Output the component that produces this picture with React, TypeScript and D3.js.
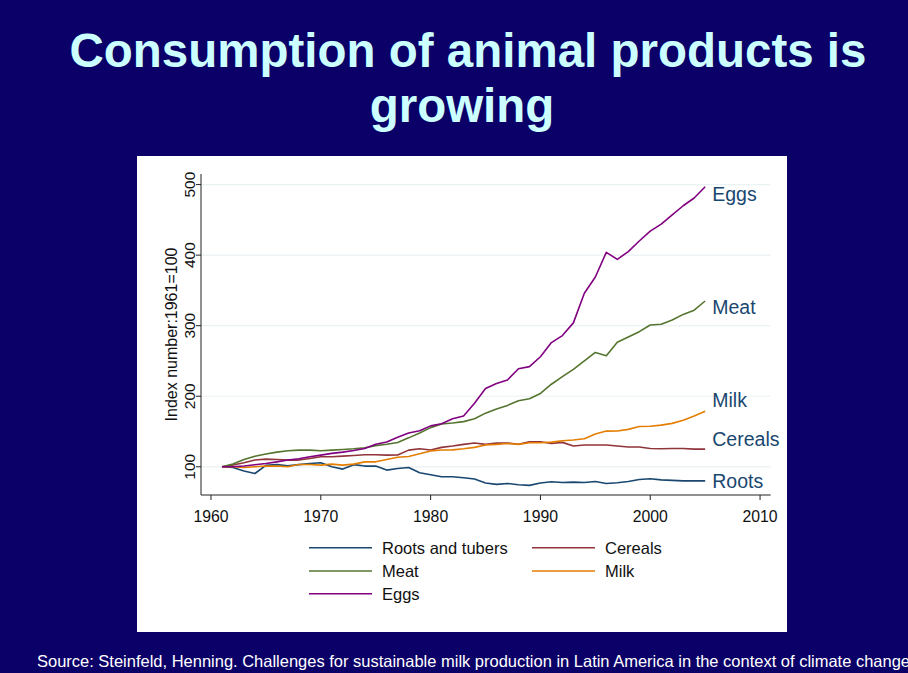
import * as d3 from 'd3';

const W = 908;
const H = 673;

const years = [
  1961, 1962, 1963, 1964, 1965, 1966, 1967, 1968, 1969, 1970,
  1971, 1972, 1973, 1974, 1975, 1976, 1977, 1978, 1979, 1980,
  1981, 1982, 1983, 1984, 1985, 1986, 1987, 1988, 1989, 1990,
  1991, 1992, 1993, 1994, 1995, 1996, 1997, 1998, 1999, 2000,
  2001, 2002, 2003, 2004, 2005,
];

const roots = [
  100, 99, 94, 90.5, 102, 103, 101.5, 103, 104.7, 105.7,
  100, 96.7, 103, 101, 101, 95.3, 97.5, 99, 91.5, 88.7,
  85.8, 85.8, 84.4, 82.6, 77, 75, 76.4, 74.5, 73.6, 77,
  78.7, 77.8, 78.3, 77.8, 79.2, 76.4, 77.4, 79.2, 82, 83,
  81.5, 80.7, 80, 80, 80,
];
const cereals = [
  100, 102.4, 105.7, 109.5, 110.9, 110.4, 109.5, 109.5, 111.8, 114.2,
  114.2, 115.1, 116, 117, 117, 116.5, 116.8, 123.6, 125.5, 123.7,
  127.5, 129.4, 131.8, 133.6, 131.8, 133.6, 133.6, 132, 135.5, 135.5,
  133, 134.6, 129.4, 130.8, 130.8, 130.8, 129.4, 128, 128, 126,
  125.5, 126, 126, 125, 125,
];
const meat = [
  100, 103.8, 110.4, 115, 118, 120.8, 122.7, 123.6, 123.6, 122.7,
  123.6, 124.6, 125.5, 127, 130, 132, 134.5, 141, 148, 155.5,
  160.6, 162, 164, 168, 176, 182, 187, 193.6, 196.5, 204,
  217, 227.7, 238, 250, 262, 257.5, 276.5, 284, 291.5, 301,
  302, 308, 316, 322, 335,
];
const milk = [
  100, 100, 99, 100, 101, 101, 100, 103.3, 103.3, 102.4,
  103.8, 102.4, 103.8, 107, 107, 110.4, 113.5, 114.5, 118.5, 122.5,
  123.7, 123.9, 125.5, 127.5, 131, 131.8, 133, 131.8, 134, 134,
  135, 137, 137.9, 139.7, 146.4, 150.6, 150.8, 153, 157, 157.5,
  159, 161.5, 166, 172, 178.6,
];
const eggs = [
  100, 100, 101, 102.8, 104.7, 107, 109.5, 111.3, 114.2, 116.5,
  119, 120.8, 123, 126, 132, 135, 142, 148, 151, 158,
  161, 168, 172, 190, 211, 218, 223, 239, 242, 256,
  276, 286, 304, 346, 369, 404, 394, 405, 420, 434,
  444, 457, 470, 481, 497,
];

const seriesNames = ['Roots and tubers', 'Cereals', 'Meat', 'Milk', 'Eggs'];
const seriesValues = [roots, cereals, meat, milk, eggs];
const seriesColors = ['#1a476f', '#90353b', '#55752f', '#e37e00', '#800080'];

// end-of-line labels (value where the label sits)
const endLabels = ['Roots', 'Cereals', 'Meat', 'Milk', 'Eggs'];
const endLabelValues = [79.5, 140, 327, 194, 487];

const yTicks = [100, 200, 300, 400, 500];
const xTicks = [1960, 1970, 1980, 1990, 2000, 2010];

const P = { left: 201, right: 770.7, top: 174, bottom: 495 };
const FONT = 'Arial, "Liberation Sans", Helvetica, sans-serif';

export default function App() {
  const x = d3.scaleLinear().domain([1959.09, 2010.97]).range([P.left, P.right]);
  const y = d3.scaleLinear().domain([60, 515]).range([P.bottom, P.top]);

  const line = d3
    .line<number>()
    .x((_, i) => x(years[i]))
    .y((d) => y(d));

  // legend layout: two columns, filled row by row
  const legendRows = [547.7, 571, 593.7];
  const legendCols = [309, 532];

  return (
    <svg
      width={W}
      height={H}
      style={{ position: 'absolute', left: 0, top: 0, fontFamily: FONT }}
    >
      <rect width={W} height={H} fill="#0a0068" />

      <text
        x={468}
        y={67}
        textAnchor="middle"
        fill="#ccffff"
        fontSize={47.5}
        fontWeight="bold"
      >
        Consumption of animal products is
      </text>
      <text
        x={462}
        y={122}
        textAnchor="middle"
        fill="#ccffff"
        fontSize={47.5}
        fontWeight="bold"
      >
        growing
      </text>

      <rect x={137} y={156} width={650} height={476} fill="#ffffff" />

      {/* grid */}
      {yTicks.map((t) => (
        <line
          key={'g' + t}
          x1={P.left}
          x2={P.right}
          y1={y(t)}
          y2={y(t)}
          stroke="#eaf2f3"
          strokeWidth={1.2}
        />
      ))}

      {/* axes */}
      <line x1={P.left} x2={P.left} y1={P.top} y2={P.bottom} stroke="#222" strokeWidth={1} />
      <line x1={P.left} x2={P.right} y1={P.bottom} y2={P.bottom} stroke="#222" strokeWidth={1} />

      {yTicks.map((t) => (
        <g key={'y' + t}>
          <line x1={P.left - 5} x2={P.left} y1={y(t)} y2={y(t)} stroke="#222" />
          <text
            transform={`translate(195,${y(t)}) rotate(-90)`}
            textAnchor="middle"
            fontSize={15.5}
            fill="#111"
          >
            {t}
          </text>
        </g>
      ))}

      {xTicks.map((t) => (
        <g key={'x' + t}>
          <line x1={x(t)} x2={x(t)} y1={P.bottom} y2={P.bottom + 5} stroke="#222" />
          <text x={x(t)} y={522} textAnchor="middle" fontSize={15.8} fill="#111">
            {t}
          </text>
        </g>
      ))}

      <text
        transform={`translate(177,${(P.top + P.bottom) / 2}) rotate(-90)`}
        textAnchor="middle"
        fontSize={16}
        fill="#111"
      >
        Index number:1961=100
      </text>

      {/* series */}
      {seriesValues.map((vals, i) => (
        <path
          key={seriesNames[i]}
          d={line(vals) ?? ''}
          fill="none"
          stroke={seriesColors[i]}
          strokeWidth={1.6}
          strokeLinejoin="round"
        />
      ))}

      {endLabels.map((lab, i) => (
        <text
          key={lab}
          x={x(2005.65)}
          y={y(endLabelValues[i])}
          dominantBaseline="central"
          fontSize={19.5}
          fill="#1a476f"
        >
          {lab}
        </text>
      ))}

      {/* legend */}
      {seriesNames.map((name, i) => {
        const lx = legendCols[i % 2];
        const ly = legendRows[Math.floor(i / 2)];
        return (
          <g key={'l' + name}>
            <line
              x1={lx}
              x2={lx + 63}
              y1={ly}
              y2={ly}
              stroke={seriesColors[i]}
              strokeWidth={1.6}
            />
            <text x={lx + 73} y={ly} dominantBaseline="central" fontSize={16.5} fill="#111">
              {name}
            </text>
          </g>
        );
      })}

      <text
        x={37}
        y={667}
        fontSize={16.5}
        fill="#ffffff"
        textLength={873}
        lengthAdjust="spacingAndGlyphs"
      >
        Source: Steinfeld, Henning. Challenges for sustainable milk production in Latin America in the context of climate change
      </text>
    </svg>
  );
}
